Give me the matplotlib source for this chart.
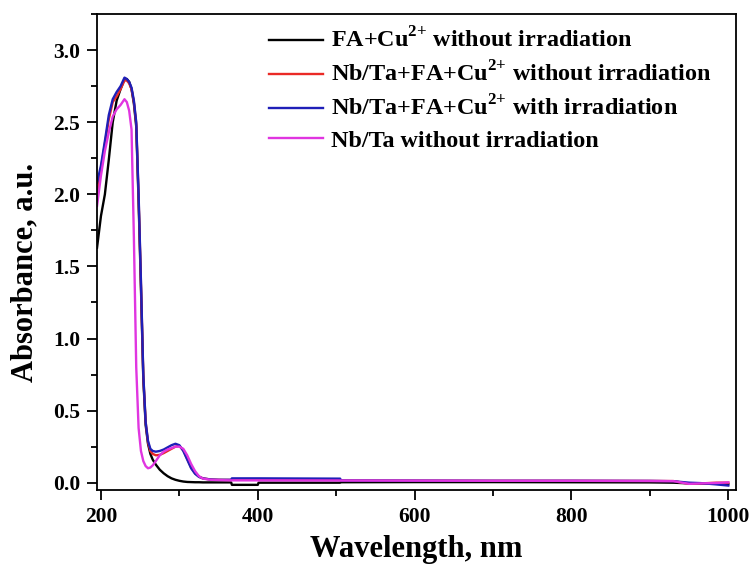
import numpy as np
import matplotlib
matplotlib.use('Agg')
import matplotlib.pyplot as plt
from matplotlib.ticker import MultipleLocator, FormatStrFormatter

plt.rcParams['font.family'] = ['Liberation Serif', 'DejaVu Serif']
plt.rcParams['font.weight'] = 'bold'
plt.rcParams['mathtext.fontset'] = 'custom'
plt.rcParams['mathtext.rm'] = 'Liberation Serif:bold'
plt.rcParams['mathtext.bf'] = 'Liberation Serif:bold'

# wavelength grid (nm), doubled points mark the detector/lamp switch steps
wavelength = [195, 200, 205, 210, 215, 220, 225, 230,
              233, 236, 239, 242, 245, 248, 251, 254, 257, 260,
              263, 266, 270, 275, 280, 285, 290, 295, 300, 305,
              310, 315, 320, 325, 330, 340, 350, 366, 367, 400,
              401, 505, 506, 600, 700, 800, 900, 930, 950, 965,
              985, 1000]

fa_cu_dark = [1.63, 1.85, 2.00, 2.24, 2.50, 2.65, 2.73, 2.80,
              2.80, 2.78, 2.73, 2.63, 2.47, 1.95, 1.35, 0.72, 0.40, 0.27,
              0.20, 0.16, 0.125, 0.09, 0.065, 0.045, 0.03, 0.02, 0.013, 0.008,
              0.005, 0.004, 0.003, 0.003, 0.002, 0.002, 0.002, 0.002, -0.015, -0.015,
              0.0, 0.0, 0.003, 0.004, 0.004, 0.003, 0.002, 0.0, -0.005, -0.006,
              -0.008, -0.01]

nbta_fa_cu_dark = [2.00, 2.18, 2.35, 2.52, 2.64, 2.68, 2.73, 2.79,
                   2.79, 2.77, 2.73, 2.64, 2.49, 1.98, 1.38, 0.74, 0.42, 0.28,
                   0.22, 0.20, 0.19, 0.193, 0.205, 0.22, 0.235, 0.25, 0.255, 0.225,
                   0.165, 0.105, 0.065, 0.042, 0.03, 0.022, 0.02, 0.019, 0.024, 0.024,
                   0.024, 0.022, 0.015, 0.014, 0.013, 0.013, 0.012, 0.011, -0.008, -0.005,
                   0.0, 0.0]

nbta_fa_cu_light = [2.08, 2.20, 2.37, 2.55, 2.66, 2.71, 2.75, 2.81,
                    2.80, 2.78, 2.74, 2.65, 2.50, 2.00, 1.40, 0.75, 0.42, 0.29,
                    0.235, 0.22, 0.215, 0.22, 0.23, 0.245, 0.26, 0.27, 0.26, 0.22,
                    0.16, 0.10, 0.062, 0.04, 0.03, 0.022, 0.02, 0.02, 0.03, 0.03,
                    0.03, 0.028, 0.015, 0.014, 0.013, 0.013, 0.012, 0.01, 0.0, -0.003,
                    -0.012, -0.02]

nbta_dark = [1.92, 2.13, 2.30, 2.43, 2.54, 2.59, 2.62, 2.66,
             2.64, 2.58, 2.45, 1.70, 0.80, 0.38, 0.22, 0.15, 0.115, 0.10,
             0.105, 0.12, 0.15, 0.19, 0.215, 0.23, 0.24, 0.25, 0.25, 0.235,
             0.19, 0.13, 0.08, 0.045, 0.028, 0.02, 0.018, 0.016, 0.016, 0.016,
             0.016, 0.015, 0.015, 0.014, 0.013, 0.013, 0.012, 0.011, -0.008, -0.005,
             -0.002, 0.002]

labels = ['FA+Cu$^{\\text{2+}}$ without irradiation',
          'Nb/Ta+FA+Cu$^{\\text{2+}}$ without irradiation',
          'Nb/Ta+FA+Cu$^{\\text{2+}}$ with irradiation',
          'Nb/Ta without irradiation']
colors = ['black', '#ea2a26', '#1f1fb8', '#e035e0']

fig = plt.figure(figsize=(7.55, 5.67), dpi=100)
ax = fig.add_axes([0.128, 0.136, 0.847, 0.839])

for spectrum, label, color in zip([fa_cu_dark, nbta_fa_cu_dark, nbta_fa_cu_light, nbta_dark],
                                  labels, colors):
    ax.plot(wavelength, spectrum, color=color, lw=1.7, label=label)

ax.set_xlim(194.5, 1010)
ax.set_ylim(-0.05, 3.25)
ax.xaxis.set_major_locator(MultipleLocator(200))
ax.xaxis.set_minor_locator(MultipleLocator(100))
ax.yaxis.set_major_locator(MultipleLocator(0.5))
ax.yaxis.set_minor_locator(MultipleLocator(0.25))
ax.yaxis.set_major_formatter(FormatStrFormatter('%.1f'))

ax.tick_params(which='both', direction='out', width=1.3, top=False, right=False,
               labelsize=15.5)
ax.tick_params(which='major', length=7, pad=5)
ax.tick_params(which='minor', length=4)
for spine in ax.spines.values():
    spine.set_linewidth(1.3)

ax.set_xlabel('Wavelength, nm', fontsize=22, fontweight='bold', labelpad=6)
ax.set_ylabel('Absorbance, a.u.', fontsize=22, fontweight='bold')
ax.yaxis.set_label_coords(-0.089, 0.458)

ax.legend(loc='upper left', bbox_to_anchor=(0.25, 0.997), frameon=False,
          fontsize=17.4, handlelength=2.25, handletextpad=0.33, labelspacing=0.36,
          borderpad=0)

fig.savefig('out.png', dpi=100)
